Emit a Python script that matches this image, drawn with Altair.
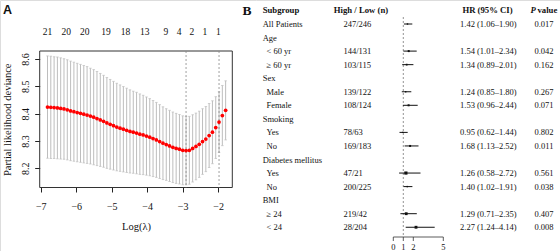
import altair as alt
import pandas as pd

# ---------------- Panel A data (LASSO Cox cross-validation) ----------------
log_lambda = [-6.810, -6.717, -6.624, -6.531, -6.438, -6.345, -6.252, -6.159, -6.066, -5.973,
              -5.880, -5.787, -5.694, -5.601, -5.508, -5.415, -5.322, -5.229, -5.136, -5.043,
              -4.950, -4.857, -4.764, -4.671, -4.578, -4.485, -4.392, -4.299, -4.206, -4.113,
              -4.020, -3.927, -3.834, -3.741, -3.648, -3.555, -3.462, -3.369, -3.276, -3.183,
              -3.090, -2.997, -2.904, -2.811, -2.718, -2.625, -2.532, -2.439, -2.346, -2.253,
              -2.160, -2.067, -1.974, -1.881, -1.788]
cv_mean = [8.424, 8.423, 8.422, 8.421, 8.419, 8.417, 8.414, 8.410, 8.407, 8.404,
           8.401, 8.398, 8.395, 8.391, 8.387, 8.382, 8.377, 8.372, 8.366, 8.361,
           8.356, 8.351, 8.347, 8.343, 8.339, 8.335, 8.332, 8.329, 8.325, 8.322,
           8.318, 8.314, 8.309, 8.304, 8.298, 8.292, 8.287, 8.282, 8.277, 8.273,
           8.270, 8.266, 8.265, 8.266, 8.273, 8.280, 8.288, 8.298, 8.307, 8.320,
           8.332, 8.349, 8.369, 8.393, 8.412]
cv_sd = [0.187, 0.187, 0.186, 0.186, 0.185, 0.184, 0.183, 0.182, 0.181, 0.180,
         0.179, 0.178, 0.177, 0.175, 0.174, 0.172, 0.170, 0.168, 0.166, 0.164,
         0.162, 0.160, 0.158, 0.156, 0.154, 0.152, 0.150, 0.149, 0.147, 0.145,
         0.143, 0.141, 0.139, 0.137, 0.135, 0.133, 0.131, 0.130, 0.129, 0.128,
         0.127, 0.126, 0.125, 0.124, 0.123, 0.122, 0.121, 0.120, 0.119, 0.117,
         0.115, 0.113, 0.111, 0.110, 0.108]
nz_at = [-6.81, -6.28, -5.76, -5.16, -4.61, -4.07, -3.47, -3.10, -2.74, -2.37, -1.99]
nz_labels = ["21", "20", "20", "19", "18", "13", "9", "4", "2", "1", "1"]
lambda_lines = [-2.904, -1.974]          # lambda.min, lambda.1se
xa_ticks = [-7, -6, -5, -4, -3, -2]
ya_ticks = [8.2, 8.3, 8.4, 8.5, 8.6]

# ---------------- Panel B data (subgroup forest plot) ----------------
subgroups = ["All Patients", "Age", "< 60 yr", "\u2265 60 yr", "Sex", "Male", "Female",
             "Smoking", "Yes", "No", "Diabetes mellitus", "Yes", "No", "BMI",
             "\u2265 24", "< 24"]
level = [0, 0, 1, 1, 0, 1, 1, 0, 1, 1, 0, 1, 1, 0, 1, 1]
n_high_low = ["247/246", "", "144/131", "103/115", "", "139/122", "108/124", "",
              "78/63", "169/183", "", "47/21", "200/225", "", "219/42", "28/204"]
hr = [1.42, None, 1.54, 1.34, None, 1.24, 1.53, None, 0.95, 1.68, None, 1.26, 1.40, None, 1.29, 2.27]
ci_lo = [1.06, None, 1.01, 0.89, None, 0.85, 0.96, None, 0.62, 1.13, None, 0.58, 1.02, None, 0.71, 1.24]
ci_hi = [1.90, None, 2.34, 2.01, None, 1.80, 2.44, None, 1.44, 2.52, None, 2.72, 1.91, None, 2.35, 4.14]
p_value = ["0.017", "", "0.042", "0.162", "", "0.267", "0.071", "", "0.802", "0.011", "",
           "0.561", "0.038", "", "0.407", "0.008"]
hr_ticks = [0, 1, 2, 5]
hr_ref = 1

# style: box areas (px^2) as drawn in the figure
box_area = [2, 0, 4, 3, 0, 2, 4, 0, 2, 4, 0, 10, 2, 0, 8, 8]

# ---------------- layout (pixels) ----------------
W, H = 560, 251
AX0, AX1, AY0, AY1 = 39.7, 232.3, 51.0, 187.5
SERIF = "Liberation Serif"

xA = alt.Scale(domain=[-7.03, -1.60], range=[AX0, AX1], nice=False, zero=False)
yA = alt.Scale(domain=[8.130, 8.629], range=[AY1, AY0], nice=False, zero=False)
axX = alt.Axis(values=xa_ticks, format="d", title="Log(\u03bb)", orient="bottom",
               offset=AY1 - H, domain=False, grid=False, tickSize=4.5, tickColor="#222",
               labelFont=SERIF, labelFontSize=10, labelColor="#111", labelPadding=9,
               titleFont=SERIF, titleFontSize=10.5, titleFontWeight="normal",
               titleColor="#111", titlePadding=10)
axY = alt.Axis(values=ya_ticks, format=".1f", title="Partial likelihood deviance",
               orient="left", offset=-AX0, domain=False, grid=False, tickSize=5,
               tickColor="#222", labelFont=SERIF, labelFontSize=10, labelColor="#111",
               labelAngle=-90, labelAlign="center", labelBaseline="bottom", labelPadding=4,
               titleFont=SERIF, titleFontSize=10.5, titleFontWeight="normal",
               titleColor="#111", titlePadding=8)

dfA = pd.DataFrame({"x": log_lambda, "m": cv_mean, "sd": cv_sd})
dfA["lo"] = dfA["m"] - dfA["sd"]
dfA["hi"] = dfA["m"] + dfA["sd"]
dfNZ = pd.DataFrame({"x": nz_at, "t": nz_labels})
dfL = pd.DataFrame({"x": lambda_lines})
one = pd.DataFrame({"k": [0]})

X = lambda f: alt.X(f, type="quantitative", scale=xA, axis=axX)
Y = lambda f: alt.Y(f, type="quantitative", scale=yA, axis=axY)

frame = alt.Chart(one).mark_rect(fillOpacity=0, stroke="#333", strokeWidth=1).encode(
    x=alt.value(AX0), x2=alt.value(AX1), y=alt.value(AY0), y2=alt.value(AY1))
bars = alt.Chart(dfA).mark_rule(color="#bdbdbd", strokeWidth=1).encode(
    x=X("x"), y=Y("lo"), y2="hi")
cap_hi = alt.Chart(dfA).mark_tick(orient="horizontal", color="#bdbdbd", size=2.5, thickness=1).encode(
    x=X("x"), y=Y("hi"))
cap_lo = alt.Chart(dfA).mark_tick(orient="horizontal", color="#bdbdbd", size=2.5, thickness=1).encode(
    x=X("x"), y=Y("lo"))
vlines = alt.Chart(dfL).mark_rule(color="#888", strokeDash=[2, 2], strokeWidth=0.8).encode(
    x=X("x"), y=alt.value(AY0), y2=alt.value(AY1))
dots = alt.Chart(dfA).mark_circle(color="#ff0000", opacity=1, size=14).encode(
    x=X("x"), y=Y("m"))
toplab = alt.Chart(dfNZ).mark_text(font=SERIF, fontSize=9.5, color="#111", baseline="middle").encode(
    x=X("x"), y=alt.value(32), text="t:N")
labA = alt.Chart(one).mark_text(text="A", font="Liberation Sans", fontWeight="bold", fontSize=12.5,
                                align="left", baseline="alphabetic", color="#111").encode(
    x=alt.value(3), y=alt.value(13.5))

panelA = alt.layer(frame, bars, cap_hi, cap_lo, vlines, dots, toplab, labA)

# ---------------- Panel B ----------------
ROW0, ROWH = 10.45, 13.55
yB = alt.Scale(domain=[0, 17], range=[ROW0, ROW0 + 17 * ROWH], nice=False, zero=False)
xB = alt.Scale(domain=[0, 5], range=[393.3, 443.3], nice=False, zero=False)
AXIS_Y = 237.0

rows = pd.DataFrame({
    "row": list(range(1, len(subgroups) + 1)),
    "sub": subgroups, "lev": level, "n": n_high_low,
    "hr": hr, "lo": ci_lo, "hi": ci_hi, "p": p_value, "box": box_area,
})
rows["hrtxt"] = [
    "" if h is None or pd.isna(h) else f"{h:.2f} ({l:.2f}\u2013{u:.2f})"
    for h, l, u in zip(hr, ci_lo, ci_hi)
]
forest = rows.dropna(subset=["hr"])
heads = pd.DataFrame({"row": [0]})
ticksB = pd.DataFrame({"v": hr_ticks})

YB = alt.Y("row:Q", scale=yB, axis=None)
XB = lambda f: alt.X(f, type="quantitative", scale=xB, axis=None)


def txt(df, field, x, align="left", **kw):
    return alt.Chart(df).mark_text(font=SERIF, fontSize=8.5, align=align, baseline="middle",
                                   color="#111", **kw).encode(
        x=alt.value(x), y=YB, text=f"{field}:N")


sub0 = txt(rows, "sub", 262.7).transform_filter("datum.lev == 0")
sub1 = txt(rows, "sub", 266.5).transform_filter("datum.lev == 1")
ncol = txt(rows, "n", 343.5)
hrcol = txt(rows, "hrtxt", 460)
pcol = txt(rows, "p", 544, align="center")


def head(text, x, align="left", style="normal"):
    return alt.Chart(heads).mark_text(text=text, font=SERIF, fontSize=8.7, fontWeight="bold",
                                      fontStyle=style, align=align, baseline="middle",
                                      color="#111").encode(x=alt.value(x), y=YB)


h1 = head("Subgroup", 262.7)
h2 = head("High / Low (n)", 361, "center")
h3 = head("HR (95% CI)", 487.5, "center")
h4 = head("P", 530.5, "left", "italic")
h5 = head("value", 537.5, "left")

refline = alt.Chart(one).mark_rule(color="#777", strokeDash=[2, 2], strokeWidth=0.8).encode(
    x=alt.X("r:Q", scale=xB, axis=None), y=alt.value(17), y2=alt.value(AXIS_Y)
).transform_calculate(r=str(hr_ref))
ci = alt.Chart(forest).mark_rule(color="#111", strokeWidth=1).encode(
    x=XB("lo"), x2="hi", y=YB)
boxes = alt.Chart(forest).mark_square(color="#111", opacity=1).encode(
    x=XB("hr"), y=YB, size=alt.Size("box:Q", scale=None, legend=None))
axline = alt.Chart(ticksB).mark_rule(color="#333", strokeWidth=0.8).encode(
    x=alt.X("min(v):Q", scale=xB, axis=None), x2="max(v):Q", y=alt.value(AXIS_Y))
axticks = alt.Chart(ticksB).mark_rule(color="#333", strokeWidth=0.8).encode(
    x=XB("v"), y=alt.value(AXIS_Y), y2=alt.value(AXIS_Y + 4))
axlabs = alt.Chart(ticksB).mark_text(font=SERIF, fontSize=8.5, baseline="middle", color="#111").encode(
    x=XB("v"), y=alt.value(AXIS_Y + 10), text="v:Q")
labB = alt.Chart(one).mark_text(text="B", font=SERIF, fontWeight="bold", fontSize=13.5,
                                align="left", baseline="alphabetic", color="#111").encode(
    x=alt.value(242.5), y=alt.value(15.2))

panelB = alt.layer(refline, ci, boxes, axline, axticks, axlabs,
                   sub0, sub1, ncol, hrcol, pcol, h1, h2, h3, h4, h5, labB)

chart = alt.layer(panelA, panelB).resolve_scale(
    x="independent", y="independent"
).properties(
    width=W, height=H, padding=0, autosize=alt.AutoSizeParams(type="none")
).configure_view(stroke=None).configure(background="white")

chart.save("out.html", embed_options={"renderer": "svg", "actions": False})
